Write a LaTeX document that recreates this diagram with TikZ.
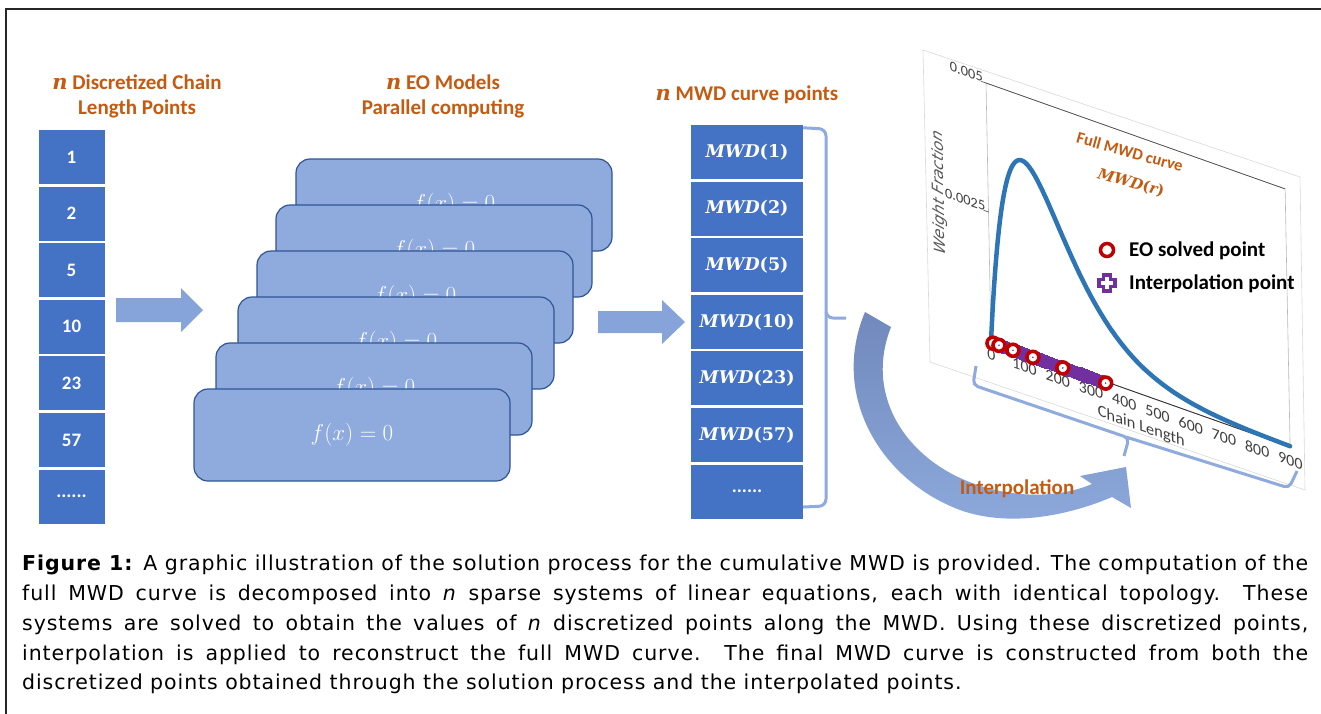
\documentclass[tikz,border=0pt]{standalone}
\usepackage{fix-cm}
\usepackage{fontspec}
\setmainfont{Carlito}
\newfontfamily\capfont[LetterSpace=4.5]{DejaVu Sans}
\newfontfamily\dvfont{DejaVu Sans}
\newfontfamily\mfont{DejaVu Serif}
\usepackage{amsmath}
\newcommand{\bmath}[2]{{\mfont\bfseries\itshape #1\upshape #2}}
\newcommand{\bn}{{\mfont\bfseries\itshape n}}
\definecolor{dblue}{HTML}{4472C4}
\definecolor{lblue}{HTML}{8FAADC}
\definecolor{bord}{HTML}{2F5597}
\definecolor{arrowc}{HTML}{86A4D9}
\definecolor{orng}{HTML}{C55A11}
\definecolor{curvec}{HTML}{2E75B6}
\definecolor{redm}{HTML}{C00000}
\definecolor{purp}{HTML}{7030A0}
\definecolor{cTop}{HTML}{7189BC}
\definecolor{cBot}{HTML}{8DA9DC}
\hbadness=10000
\hfuzz=20pt
\begin{document}
\begin{tikzpicture}[x=1pt,y=-1pt,
  hdr/.style={align=center, text=orng, font=\bfseries\fontsize{21}{25}\selectfont, inner sep=0pt},
  cell/.style={fill=dblue, minimum width=66pt, minimum height=54pt, inner sep=0pt, text=white, font=\bfseries\fontsize{19}{19}\selectfont},
  mcell/.style={fill=dblue, minimum width=112pt, minimum height=54pt, inner sep=0pt, text=white, font=\fontsize{17.5}{17.5}\selectfont},
  card/.style={draw=bord, line width=1.2pt, fill=lblue, rounded corners=14pt, minimum width=316pt, minimum height=92pt, inner sep=0pt, text=white, font=\fontsize{23}{23}\selectfont},
  blockarrow/.style={fill=arrowc},
  bracec/.style={draw=lblue, line width=3pt, rounded corners=7pt},
  tickl/.style={text=black!75, font=\fontsize{16}{16}\selectfont, inner sep=0pt},
  ytickl/.style={text=black!75, font=\fontsize{14.5}{14.5}\selectfont, inner sep=0pt},
  legt/.style={anchor=west, font=\bfseries\fontsize{21}{21}\selectfont, inner sep=0pt},
]
\useasboundingbox (0,0) rectangle (1321,713);
\fill[white] (0,0) rectangle (1321,713);
% outer frame
\draw[black!85, line width=2pt] (1330,9) -- (6,9) -- (6,720);

% headers
\node[hdr] (h1) at (137,96) {\bn{} Discretized Chain\\Length Points};
\node[hdr] (h2) at (443,96) {\bn{} EO Models\\Parallel computing};
\node[hdr] (h3) at (747,95) {\bn{} MWD curve points};

% chain length column
\node[cell] (c1) at (71.5,157) {1};
\node[cell] (c2) at (71.5,213.6) {2};
\node[cell] (c3) at (71.5,270.2) {5};
\node[cell] (c4) at (71.5,326.8) {10};
\node[cell] (c5) at (71.5,383.4) {23};
\node[cell] (c6) at (71.5,440) {57};
\node[cell] (c7) at (71.5,496.6) {......};

% arrow 1
\fill[blockarrow] (116,298) -- (181,298) -- (181,288) -- (203,310) -- (181,332) -- (181,322) -- (116,322) -- cycle;

% stacked EO model cards
\node[card] (e1) at (454,205) {$f(x)=0$};
\node[card] (e2) at (434,251) {$f(x)=0$};
\node[card] (e3) at (415,297) {$f(x)=0$};
\node[card] (e4) at (396,343) {$f(x)=0$};
\node[card] (e5) at (374,389) {$f(x)=0$};
\node[card] (e6) at (352,435) {$f(x)=0$};

% arrow 2
\fill[blockarrow] (598,311) -- (662,311) -- (662,300) -- (685,322) -- (662,344) -- (662,333) -- (598,333) -- cycle;

% MWD column
\node[mcell] (m1) at (747,152) {\bmath{MWD}{(1)}};
\node[mcell] (m2) at (747,208.6) {\bmath{MWD}{(2)}};
\node[mcell] (m3) at (747,265.2) {\bmath{MWD}{(5)}};
\node[mcell] (m4) at (747,321.8) {\bmath{MWD}{(10)}};
\node[mcell] (m5) at (747,378.4) {\bmath{MWD}{(23)}};
\node[mcell] (m6) at (747,435) {\bmath{MWD}{(57)}};
\node[mcell, font=\bfseries\fontsize{19}{19}\selectfont] (m7) at (747,491.6) {......};

% brace right of MWD column
\coordinate (bt) at (846,318);
\draw[bracec] (m1.north east) ++(0,3) -- (826,129) -- (826,318) -- (bt);
\draw[bracec] (826,312) -- (826,506) -- (803,507);

% chart image frame
\draw[gray!30, line width=0.6pt] (923,50) -- (1300,177) -- (1305,490) -- (930,362) -- cycle;

% chart in perspective
\begin{scope}[x=1pt,y=1pt,cm={0.997,-0.353,-0.0194,1.0,(991pt,-341pt)},transform shape]
  \draw[gray!55, line width=0.6pt] (0,0) rectangle (300,258);
  \draw[black!70, line width=0.7pt] (0,258) -- (300,258);
  \draw[black!80, line width=0.9pt] (0,0) -- (300,0);
  \draw[black!70, line width=0.6pt] (-5,258) -- (0,258) (-5,129) -- (0,129);
  \node[ytickl, anchor=south east] (yt1) at (-3,257) {0.005};
  \node[ytickl, anchor=south east] (yt2) at (-3,128) {0.0025};
  \node[text=black!65, font=\dvfont\itshape\fontsize{15.5}{15.5}\selectfont, rotate=90, inner sep=0pt] (yl) at (-49,131) {Weight Fraction};
  \node[tickl] (x0) at (0,-14) {0};
  \node[tickl] (x1) at (33.33,-14) {100};
  \node[tickl] (x2) at (66.67,-14) {200};
  \node[tickl] (x3) at (100,-14) {300};
  \node[tickl] (x4) at (133.33,-14) {400};
  \node[tickl] (x5) at (166.67,-14) {500};
  \node[tickl] (x6) at (200,-14) {600};
  \node[tickl] (x7) at (233.33,-14) {700};
  \node[tickl] (x8) at (266.67,-14) {800};
  \node[tickl] (x9) at (300,-14) {900};
  \node[tickl, font=\fontsize{16.5}{16.5}\selectfont] (xl) at (150,-33) {Chain Length};
  \draw[curvec, line width=4.5pt, line join=round, line cap=round] plot[domain=0:300, samples=151, smooth] (\x,{15.2*\x*exp(-0.029*\x)});
\end{scope}

% interpolation markers on the axis
\foreach \u in {6,8.5,...,113} {
  \draw[purp, line width=2.6pt, fill=white, shift={({991+0.997*\u},{342.5+0.353*\u})}]
    (-2,-5) -- (2,-5) -- (2,-2) -- (5,-2) -- (5,2) -- (2,2) -- (2,5) -- (-2,5) -- (-2,2) -- (-5,2) -- (-5,-2) -- (-2,-2) -- cycle;
}
\foreach \u in {2,8,22,42,72,115} {
  \draw[redm, line width=3.6pt, fill=white] ({991+0.997*\u},{342.5+0.353*\u}) circle (6pt);
  \fill[purp] ({991+0.997*\u},{342.5+0.353*\u}) circle (0.9pt);
}

% chart labels
\node[text=orng, font=\bfseries\fontsize{16.5}{16.5}\selectfont, rotate=-15.5, inner sep=0pt] (fl) at (1130,152) {Full MWD curve};
\node[text=orng, font=\fontsize{15}{15}\selectfont, rotate=-15.5, inner sep=0pt] (fm) at (1131,183) {\bmath{MWD}{(}{\mfont\bfseries\itshape r}{\mfont\bfseries)}};

% legend
\draw[redm, line width=3.5pt] (1107,250) circle (6.5pt);
\node[legt] (l1) at (1129,251) {EO solved point};
\draw[purp, line width=3.2pt, fill=white] (1103.5,275) -- (1110.5,275) -- (1110.5,279.5) -- (1115,279.5) -- (1115,286.5) -- (1110.5,286.5) -- (1110.5,291) -- (1103.5,291) -- (1103.5,286.5) -- (1099,286.5) -- (1099,279.5) -- (1103.5,279.5) -- cycle;
\node[legt] (l2) at (1129,284) {Interpolation point};

% brace under the x axis
\coordinate (ct) at (1124,456);
\draw[bracec, rounded corners=5pt] (976,366) -- (973,385) -- (1129,438) -- (ct);
\draw[bracec, rounded corners=5pt] (1126,437) -- (1289,488) -- (1297,471);

% curved interpolation arrow
\shade[top color=cTop, bottom color=cBot]
  (865,312) .. controls (830,395) and (880,480) .. (960,510)
  .. controls (1010,528) and (1070,515) .. (1112,497)
  -- (1131,508) -- (1126,467) -- (1080,476) -- (1092,484)
  .. controls (1050,502) and (990,497) .. (945,470)
  .. controls (895,440) and (868,385) .. (891,327) -- cycle;
\node[text=orng, font=\bfseries\fontsize{21}{21}\selectfont, inner sep=0pt] (il) at (1017,489) {Interpolation};

% caption
\node[anchor=north west, inner sep=0pt, font=\capfont] (cap) at (22,555) {\begin{minipage}[t]{1286pt}\fontsize{20.5}{29.75}\selectfont
\hbox to 1286pt{\textbf{Figure 1:} A graphic illustration of the solution process for the cumulative MWD is provided. The computation of the}
\hbox to 1286pt{full MWD curve is decomposed into \textit{n} sparse systems of linear equations, each with identical topology. These}
\hbox to 1286pt{systems are solved to obtain the values of \textit{n} discretized points along the MWD. Using these discretized points,}
\hbox to 1286pt{interpolation is applied to reconstruct the full MWD curve. The final MWD curve is constructed from both the}
\hbox{discretized points obtained through the solution process and the interpolated points.}
\end{minipage}};
\end{tikzpicture}
\end{document}
